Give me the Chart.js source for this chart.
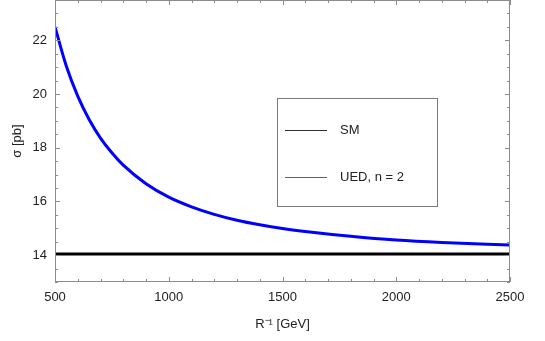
<!DOCTYPE html>
<html lang="en">
<head>
    <meta charset="UTF-8">
    <title>Cross section vs inverse radius</title>
    <script src="https://cdn.jsdelivr.net/npm/chart.js"></script>
    <style>
        body {
            margin: 0;
            padding: 0;
            background: #ffffff;
        }
        .wrap {
            width: 545px;
            height: 341px;
        }
    </style>
</head>
<body>
    <div class="wrap">
        <canvas id="sigmaChart" width="545" height="341"></canvas>
    </div>

    <script>
        // Data
        const rInv = [500, 550, 600, 650, 700, 750, 800, 900, 1000, 1100, 1200, 1300, 1400, 1500, 1600, 1800, 2000, 2200, 2500];
        const uedSigma = [22.50, 21.03, 19.92, 19.05, 18.36, 17.81, 17.35, 16.66, 16.16, 15.80, 15.52, 15.30, 15.13, 14.99, 14.88, 14.70, 14.56, 14.47, 14.38];
        const smSigma = [14.04, 14.04, 14.04, 14.04, 14.04, 14.04, 14.04, 14.04, 14.04, 14.04, 14.04, 14.04, 14.04, 14.04, 14.04, 14.04, 14.04, 14.04, 14.04];
        const xTickValues = [500, 1000, 1500, 2000, 2500];
        const yTickValues = [14, 16, 18, 20, 22];
        const seriesLabels = ['SM', 'UED, n = 2'];
        const legendColors = ['#303030', '#4a4aff'];

        const FONT = '"Liberation Sans", Arial, sans-serif';
        const TEXT = '#222222';
        const FRAME = '#8c8c8c';

        // frame + inward ticks on all four sides
        const framePlugin = {
            id: 'frame',
            afterDraw(chart) {
                const ctx = chart.ctx;
                const a = chart.chartArea;
                const xs = chart.scales.x, ys = chart.scales.y;
                ctx.save();
                ctx.strokeStyle = FRAME;
                ctx.lineWidth = 1;
                ctx.strokeRect(a.left + 0.5, a.top + 0.5, a.right - a.left - 1, a.bottom - a.top - 1);
                ctx.beginPath();
                for (let v = 500; v <= 2500; v += 100) {
                    const px = Math.round(xs.getPixelForValue(v)) + 0.5;
                    const len = (v % 500 === 0) ? 5 : 3;
                    ctx.moveTo(px, a.bottom); ctx.lineTo(px, a.bottom - len);
                    ctx.moveTo(px, a.top); ctx.lineTo(px, a.top + len);
                }
                for (let v = 13; v <= 23.5; v += 0.5) {
                    const py = Math.round(ys.getPixelForValue(v)) + 0.5;
                    const len = (v % 2 === 0) ? 5 : 3;
                    ctx.moveTo(a.left, py); ctx.lineTo(a.left + len, py);
                    ctx.moveTo(a.right, py); ctx.lineTo(a.right - len, py);
                }
                ctx.stroke();
                ctx.restore();
            }
        };

        // boxed legend inside the plot
        const legendBoxPlugin = {
            id: 'legendBox',
            afterDraw(chart) {
                const ctx = chart.ctx;
                const bx = 277, by = 98, bw = 160, bh = 108;
                ctx.save();
                ctx.fillStyle = '#ffffff';
                ctx.fillRect(bx, by, bw, bh);
                ctx.strokeStyle = '#7a7a7a';
                ctx.lineWidth = 1;
                ctx.strokeRect(bx + 0.5, by + 0.5, bw, bh);
                const rows = [by + 32, by + 79];
                seriesLabels.forEach((label, i) => {
                    ctx.strokeStyle = legendColors[i];
                    ctx.lineWidth = 1.2;
                    ctx.beginPath();
                    ctx.moveTo(bx + 8, rows[i] + 0.5);
                    ctx.lineTo(bx + 50, rows[i] + 0.5);
                    ctx.stroke();
                    ctx.fillStyle = TEXT;
                    ctx.font = '13px ' + FONT;
                    ctx.textBaseline = 'middle';
                    ctx.fillText(label, bx + 63, rows[i]);
                });
                ctx.restore();
            }
        };

        const ctx = document.getElementById('sigmaChart').getContext('2d');
        const sigmaChart = new Chart(ctx, {
            type: 'line',
            data: {
                datasets: [{
                    label: seriesLabels[0],
                    data: rInv.map((x, i) => ({x: x, y: smSigma[i]})),
                    borderColor: '#000000',
                    borderWidth: 3,
                    pointRadius: 0,
                    tension: 0
                }, {
                    label: seriesLabels[1],
                    data: rInv.map((x, i) => ({x: x, y: uedSigma[i]})),
                    borderColor: '#0000ff',
                    borderWidth: 3,
                    pointRadius: 0,
                    cubicInterpolationMode: 'monotone'
                }]
            },
            options: {
                responsive: false,
                animation: false,
                layout: {
                    padding: {top: 0, right: 35, bottom: 0, left: 0}
                },
                plugins: {
                    legend: {display: false},
                    tooltip: {enabled: false}
                },
                scales: {
                    x: {
                        type: 'linear',
                        min: 500,
                        max: 2500,
                        afterBuildTicks: s => { s.ticks = xTickValues.map(v => ({value: v})); },
                        afterFit: s => { s.height = 59; s.paddingLeft = 0; s.paddingRight = 0; },
                        grid: {display: false, drawTicks: false},
                        border: {display: false},
                        ticks: {
                            color: TEXT,
                            padding: 8,
                            maxRotation: 0,
                            callback: v => String(v),
                            font: {family: FONT, size: 13}
                        },
                        title: {
                            display: true,
                            text: 'R\u207B\u00B9 [GeV]',
                            color: TEXT,
                            padding: {top: 0, bottom: 9},
                            font: {family: FONT, size: 13}
                        }
                    },
                    y: {
                        type: 'linear',
                        min: 13,
                        max: 23.5,
                        afterBuildTicks: s => { s.ticks = yTickValues.map(v => ({value: v})); },
                        afterFit: s => { s.width = 55; s.paddingTop = 0; s.paddingBottom = 0; },
                        grid: {display: false, drawTicks: false},
                        border: {display: false},
                        ticks: {
                            color: TEXT,
                            padding: 8,
                            callback: v => String(v),
                            font: {family: FONT, size: 13}
                        },
                        title: {
                            display: true,
                            text: '\u03C3 [pb]',
                            color: TEXT,
                            padding: {top: 10, bottom: 0},
                            font: {family: FONT, size: 13}
                        }
                    }
                }
            },
            plugins: [framePlugin, legendBoxPlugin]
        });
    </script>
</body>
</html>
